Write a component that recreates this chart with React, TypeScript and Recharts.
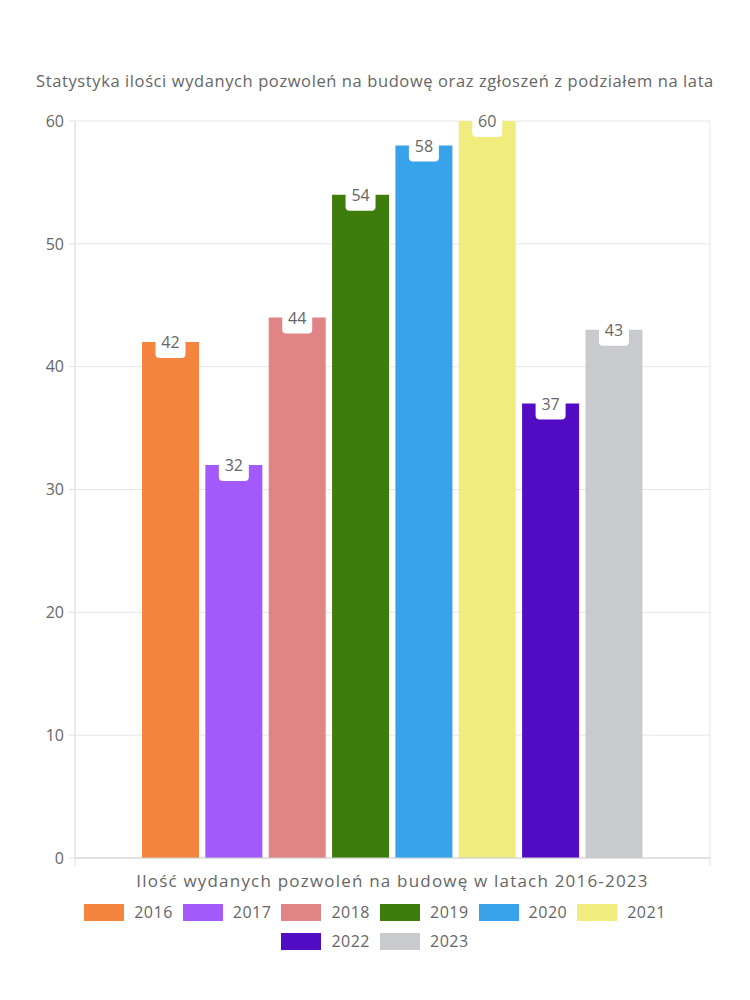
import React from 'react';
import { BarChart, Bar, XAxis, YAxis, CartesianGrid, Legend, LabelList } from 'recharts';

const title = 'Statystyka ilości wydanych pozwoleń na budowę oraz zgłoszeń z podziałem na lata';
const category = 'Ilość wydanych pozwoleń na budowę w latach 2016-2023';
const years = ['2016', '2017', '2018', '2019', '2020', '2021', '2022', '2023'];
const permits = [42, 32, 44, 54, 58, 60, 37, 43];
const colors = ['#F5843F', '#A25AFC', '#E08486', '#3E7C0C', '#38A3EA', '#F0EC7E', '#520CC3', '#C9CACE'];
const yTicks = [0, 10, 20, 30, 40, 50, 60];

const row: Record<string, string | number> = { name: category };
years.forEach((y, i) => {
  row[y] = permits[i];
});
const data = [row];

const FONT = '"Open Sans", "Noto Sans", sans-serif';
const GREY = '#666';

const ValueTag = (props: any) => {
  const { x, y, width, value } = props;
  const cx = x + width / 2;
  return (
    <g>
      <rect x={cx - 15} y={y - 15} width={30} height={31} rx={4} fill="#fff" />
      <text x={cx} y={y} textAnchor="middle" dominantBaseline="central" fontSize={16} fill={GREY} fontFamily={FONT}>
        {value}
      </text>
    </g>
  );
};

const CategoryTick = (props: any) => {
  const { x, y, payload } = props;
  const half = 317.5;
  return (
    <g>
      <line x1={x - half} x2={x - half} y1={y - 8} y2={y} stroke="#e0e0e0" />
      <line x1={x + half} x2={x + half} y1={y - 8} y2={y} stroke="#e0e0e0" />
      <text
        x={x}
        y={y + 21}
        textAnchor="middle"
        fontSize={17}
        letterSpacing={1.2}
        fill={GREY}
        fontFamily={FONT}
      >
        {payload.value}
      </text>
    </g>
  );
};

const YearLegend = () => (
  <div
    style={{
      display: 'flex',
      flexWrap: 'wrap',
      justifyContent: 'center',
      width: 620,
      margin: '0 auto',
      rowGap: 11,
      paddingTop: 15,
      fontFamily: FONT,
      fontSize: 16,
      color: GREY,
    }}
  >
    {years.map((y, i) => (
      <div key={y} style={{ display: 'flex', alignItems: 'center', margin: '0 5px', height: 18 }}>
        <span style={{ display: 'inline-block', width: 40, height: 17, background: colors[i], marginRight: 10 }} />
        <span style={{ letterSpacing: 0.5 }}>{y}</span>
      </div>
    ))}
  </div>
);

export default function App() {
  return (
    <div style={{ position: 'absolute', left: 0, top: 0, width: 750, height: 1000, background: '#fff' }}>
      <div
        style={{
          position: 'absolute',
          top: 69,
          left: 0,
          width: 750,
          textAlign: 'center',
          fontFamily: FONT,
          fontSize: 16.5,
          letterSpacing: 0.6,
          color: GREY,
        }}
      >
        {title}
      </div>
      <BarChart
        width={750}
        height={1000}
        data={data}
        margin={{ top: 121, right: 40, left: 0, bottom: 42 }}
        barCategoryGap="10%"
        barGap={6.35}
        barSize={57}
      >
        <CartesianGrid stroke="#e6e6e6" verticalPoints={[75, 710]} />
        <XAxis
          dataKey="name"
          height={30}
          tickLine={false}
          axisLine={{ stroke: '#d0d0d0' }}
          tick={<CategoryTick />}
          interval={0}
        />
        <YAxis
          width={75}
          domain={[0, 60]}
          ticks={yTicks}
          tickSize={6}
          tickMargin={5}
          tickLine={{ stroke: '#e0e0e0' }}
          axisLine={{ stroke: '#e0e0e0' }}
          tick={{ fontSize: 16, fill: GREY, fontFamily: FONT }}
        />
        <Legend
          verticalAlign="bottom"
          height={70}
          wrapperStyle={{ left: 0, width: 750 }}
          content={<YearLegend />}
        />
        {years.map((y, i) => (
          <Bar key={y} dataKey={y} fill={colors[i]} isAnimationActive={false}>
            <LabelList dataKey={y} content={<ValueTag />} />
          </Bar>
        ))}
      </BarChart>
    </div>
  );
}
